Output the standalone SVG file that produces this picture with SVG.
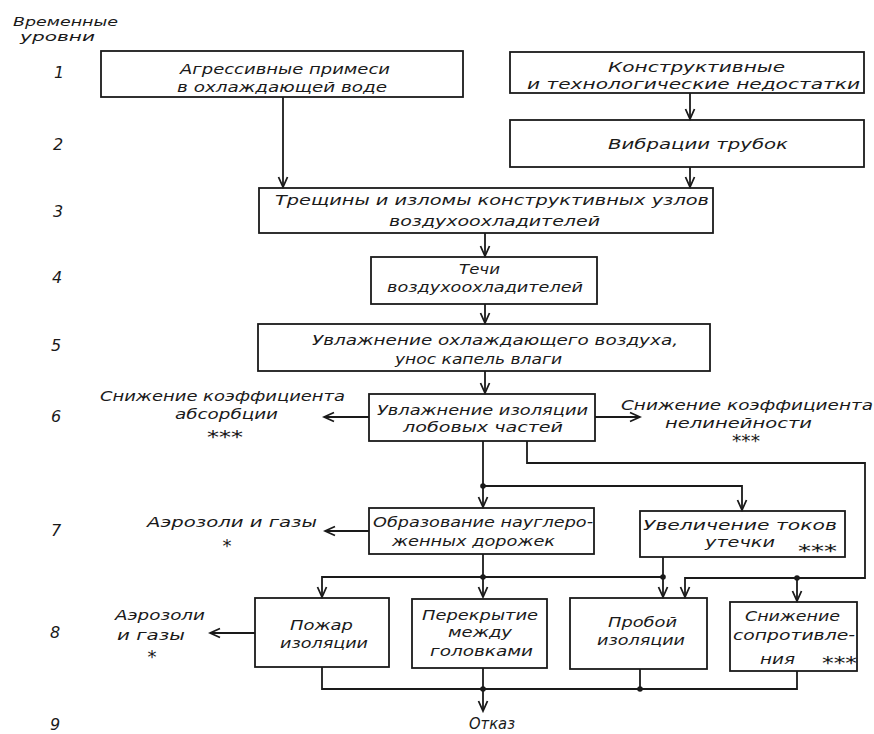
<svg xmlns="http://www.w3.org/2000/svg" width="874" height="734" viewBox="0 0 874 734">
<defs>
<style>
text{font-family:"DejaVu Sans","Liberation Sans",sans-serif;font-style:italic;font-size:14.5px;fill:#1a1a1a}
.lvl{font-size:16px}
.hd{font-size:13px}
.st{font-size:18px}
.big{font-size:16.5px}
.box{fill:none;stroke:#1a1a1a;stroke-width:1.8}
.con{fill:none;stroke:#1a1a1a;stroke-width:1.8}
.dot{fill:#1a1a1a}
</style>
<marker id="ah" markerUnits="userSpaceOnUse" markerWidth="14" markerHeight="12" viewBox="-11 -6 12 12" refX="0" refY="0" orient="auto">
<path d="M-10,-4.5 L0,0 L-10,4.5" fill="none" stroke="#1a1a1a" stroke-width="1.8"/>
</marker>
</defs>
<rect width="874" height="734" fill="#ffffff"/>

<g id="levels">
<text class="hd" x="13" y="26" textLength="105" lengthAdjust="spacingAndGlyphs">Временные</text>
<text class="hd" x="20" y="41" textLength="75" lengthAdjust="spacingAndGlyphs">уровни</text>
<text class="lvl" x="54" y="78">1</text>
<text class="lvl" x="53" y="150">2</text>
<text class="lvl" x="53" y="217">3</text>
<text class="lvl" x="52" y="283">4</text>
<text class="lvl" x="51" y="351">5</text>
<text class="lvl" x="51" y="422">6</text>
<text class="lvl" x="51" y="536">7</text>
<text class="lvl" x="50" y="638">8</text>
<text class="lvl" x="50" y="730">9</text>
</g>

<g id="n1">
<rect class="box" x="101" y="51" width="362" height="46"/>
<text x="180" y="74" textLength="210" lengthAdjust="spacingAndGlyphs">Агрессивные примеси</text>
<text x="177" y="92" textLength="210" lengthAdjust="spacingAndGlyphs">в охлаждающей воде</text>
</g>
<g id="n2">
<rect class="box" x="510" y="52" width="354" height="41"/>
<text x="608" y="72" textLength="177" lengthAdjust="spacingAndGlyphs">Конструктивные</text>
<text x="527" y="89" textLength="333" lengthAdjust="spacingAndGlyphs">и технологические недостатки</text>
</g>
<g id="n3">
<rect class="box" x="510" y="120" width="354" height="47"/>
<text x="608" y="149" textLength="180" lengthAdjust="spacingAndGlyphs">Вибрации трубок</text>
</g>
<g id="n4">
<rect class="box" x="259" y="188" width="454" height="45"/>
<text x="275" y="205" textLength="434" lengthAdjust="spacingAndGlyphs">Трещины и изломы конструктивных узлов</text>
<text x="389" y="226" textLength="211" lengthAdjust="spacingAndGlyphs">воздухоохладителей</text>
</g>
<g id="n5">
<rect class="box" x="371" y="257" width="226" height="47"/>
<text x="459" y="274" textLength="41" lengthAdjust="spacingAndGlyphs">Течи</text>
<text x="387" y="292" textLength="196" lengthAdjust="spacingAndGlyphs">воздухоохладителей</text>
</g>
<g id="n6">
<rect class="box" x="258" y="324" width="452" height="47"/>
<text x="312" y="345" textLength="366" lengthAdjust="spacingAndGlyphs">Увлажнение охлаждающего воздуха,</text>
<text x="395" y="364" textLength="167" lengthAdjust="spacingAndGlyphs">унос капель влаги</text>
</g>
<g id="n7">
<rect class="box" x="369" y="394" width="226" height="47"/>
<text x="377" y="415" textLength="211" lengthAdjust="spacingAndGlyphs">Увлажнение изоляции</text>
<text x="403" y="432" textLength="160" lengthAdjust="spacingAndGlyphs">лобовых частей</text>
</g>
<g id="n8">
<text x="100" y="401" textLength="245" lengthAdjust="spacingAndGlyphs">Снижение коэффициента</text>
<text x="175" y="419" textLength="103" lengthAdjust="spacingAndGlyphs">абсорбции</text>
<text class="st" x="207" y="443" textLength="36" lengthAdjust="spacingAndGlyphs">***</text>
</g>
<g id="n9">
<text x="621" y="410" textLength="252" lengthAdjust="spacingAndGlyphs">Снижение коэффициента</text>
<text x="665" y="428" textLength="147" lengthAdjust="spacingAndGlyphs">нелинейности</text>
<text class="st" x="732" y="447" textLength="28" lengthAdjust="spacingAndGlyphs">***</text>
</g>
<g id="n10">
<rect class="box" x="369" y="508" width="225" height="46"/>
<text x="373" y="527" textLength="220" lengthAdjust="spacingAndGlyphs">Образование науглеро-</text>
<text x="392" y="546" textLength="163" lengthAdjust="spacingAndGlyphs">женных дорожек</text>
</g>
<g id="n11">
<rect class="box" x="640" y="511" width="205" height="46"/>
<text x="643" y="530" textLength="194" lengthAdjust="spacingAndGlyphs">Увеличение токов</text>
<text x="705" y="547" textLength="70" lengthAdjust="spacingAndGlyphs">утечки</text>
<text class="st" x="798" y="557" textLength="39" lengthAdjust="spacingAndGlyphs">***</text>
</g>
<g id="n12">
<text x="147" y="527" textLength="170" lengthAdjust="spacingAndGlyphs">Аэрозоли и газы</text>
<text class="st" x="227" y="552" text-anchor="middle">*</text>
</g>
<g id="n13">
<rect class="box" x="255" y="598" width="134" height="69"/>
<text x="290" y="630" textLength="63" lengthAdjust="spacingAndGlyphs">Пожар</text>
<text x="280" y="648" textLength="88" lengthAdjust="spacingAndGlyphs">изоляции</text>
</g>
<g id="n14">
<rect class="box" x="412" y="599" width="135" height="69"/>
<text x="422" y="620" textLength="116" lengthAdjust="spacingAndGlyphs">Перекрытие</text>
<text x="448" y="637" textLength="64" lengthAdjust="spacingAndGlyphs">между</text>
<text x="430" y="656" textLength="103" lengthAdjust="spacingAndGlyphs">головками</text>
</g>
<g id="n15">
<rect class="box" x="570" y="598" width="137" height="71"/>
<text x="608" y="627" textLength="69" lengthAdjust="spacingAndGlyphs">Пробой</text>
<text x="597" y="645" textLength="88" lengthAdjust="spacingAndGlyphs">изоляции</text>
</g>
<g id="n16">
<rect class="box" x="730" y="602" width="127" height="69"/>
<text x="745" y="621" textLength="95" lengthAdjust="spacingAndGlyphs">Снижение</text>
<text x="733" y="640" textLength="122" lengthAdjust="spacingAndGlyphs">сопротивле-</text>
<text x="760" y="664" textLength="35" lengthAdjust="spacingAndGlyphs">ния</text>
<text class="st" x="822" y="669" textLength="35" lengthAdjust="spacingAndGlyphs">***</text>
</g>
<g id="n17">
<text x="115" y="620" textLength="90" lengthAdjust="spacingAndGlyphs">Аэрозоли</text>
<text x="117" y="640" textLength="68" lengthAdjust="spacingAndGlyphs">и газы</text>
<text class="st" x="152" y="663" text-anchor="middle">*</text>
</g>
<g id="n18">
<text class="big" x="469" y="729" textLength="46" lengthAdjust="spacingAndGlyphs">Отказ</text>
</g>

<g id="connectors">
<path class="con" d="M283,97 V187" marker-end="url(#ah)"/>
<path class="con" d="M690,93 V119" marker-end="url(#ah)"/>
<path class="con" d="M690,167 V187" marker-end="url(#ah)"/>
<path class="con" d="M485,233 V256" marker-end="url(#ah)"/>
<path class="con" d="M485,304 V323" marker-end="url(#ah)"/>
<path class="con" d="M485,371 V393" marker-end="url(#ah)"/>
<path class="con" d="M369,417 H324" marker-end="url(#ah)"/>
<path class="con" d="M595,417 H640" marker-end="url(#ah)"/>
<path class="con" d="M483,441 V507" marker-end="url(#ah)"/>
<path class="con" d="M483,486 H742 V510" marker-end="url(#ah)"/>
<path class="con" d="M527,441 V463 H865 V578 H685 V597" marker-end="url(#ah)"/>
<path class="con" d="M797,578 V601" marker-end="url(#ah)"/>
<path class="con" d="M369,531 H325" marker-end="url(#ah)"/>
<path class="con" d="M483,554 V597" marker-end="url(#ah)"/>
<path class="con" d="M663,557 V597" marker-end="url(#ah)"/>
<path class="con" d="M663,577 H322 V597" marker-end="url(#ah)"/>
<path class="con" d="M255,633 H210" marker-end="url(#ah)"/>
<path class="con" d="M322,667 V689 H797 V671"/>
<path class="con" d="M483,668 V711" marker-end="url(#ah)"/>
<path class="con" d="M640,669 V689"/>
<circle class="dot" cx="483" cy="486" r="2.8"/>
<circle class="dot" cx="797" cy="578" r="2.8"/>
<circle class="dot" cx="483" cy="577" r="2.8"/>
<circle class="dot" cx="663" cy="577" r="2.8"/>
<circle class="dot" cx="483" cy="689" r="2.8"/>
<circle class="dot" cx="640" cy="689" r="2.8"/>
</g>
</svg>
